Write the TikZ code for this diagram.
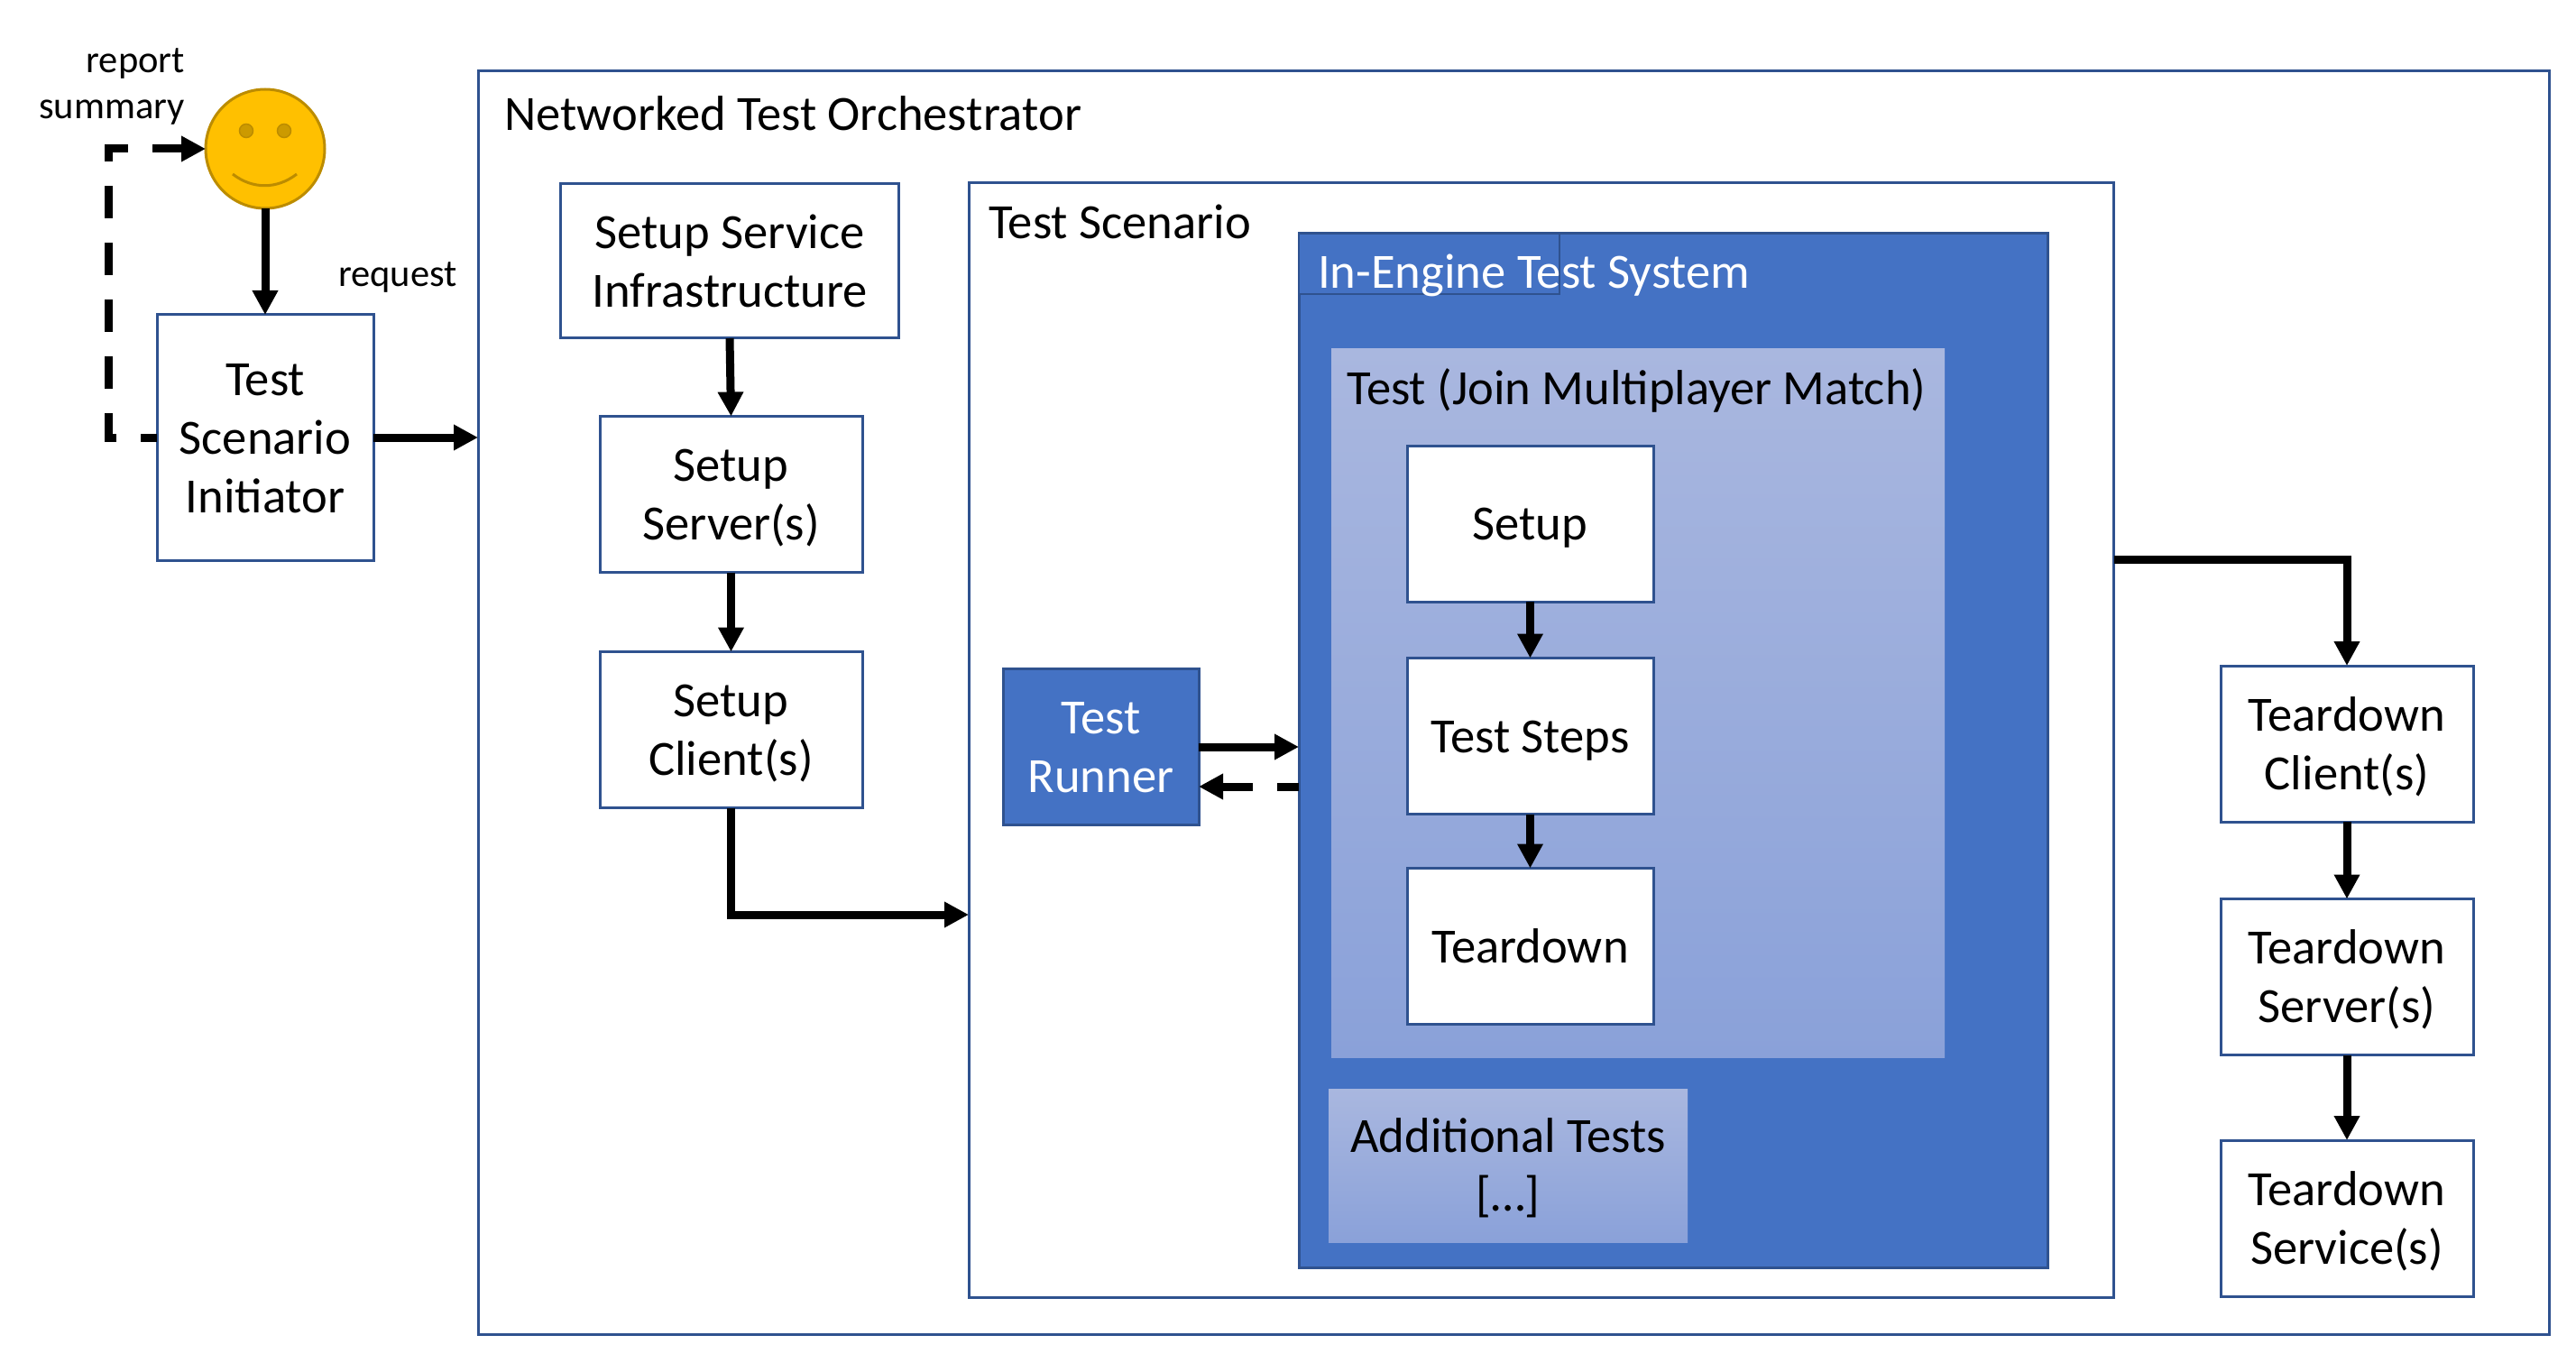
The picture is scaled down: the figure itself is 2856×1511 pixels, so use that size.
\documentclass[tikz,border=0pt]{standalone}
\usepackage{fontspec}
\setmainfont{Carlito}
\usetikzlibrary{arrows.meta,calc}

\definecolor{edgeblue}{HTML}{2F528F}
\definecolor{fillblue}{HTML}{4472C4}
\definecolor{paletop}{HTML}{A9B7DF}
\definecolor{palebot}{HTML}{8AA1D9}
\definecolor{facefill}{HTML}{FFC000}
\definecolor{faceline}{HTML}{BC8C00}
\definecolor{faceeye}{HTML}{CC9A00}

\newcommand{\textfoot}{\rule[-14.3pt]{0pt}{0pt}}
\newcommand{\texttop}{\rule{0pt}{50.7pt}}

\tikzset{
  boxtext/.style={align=center,inner sep=0pt,outer sep=0pt,font=\fontsize{54.6}{65}\selectfont},
  whitebox/.style={boxtext,draw=edgeblue,fill=white,line width=3pt},
  bluebox/.style={boxtext,draw=edgeblue,fill=fillblue,line width=3pt,text=white},
  palebox/.style={boxtext,top color=paletop,bottom color=palebot},
  boxlabel/.style={anchor=base west,inner sep=0pt,font=\fontsize{54.6}{65}\selectfont},
  smalllabel/.style={inner sep=0pt,font=\fontsize{42.5}{51}\selectfont},
  flow/.style={-{Triangle[length=27pt,width=27pt]},line width=9pt,black},
}

\begin{document}
\begin{tikzpicture}[x=1pt,y=-1pt]
\useasboundingbox (0,0) rectangle (2856,1511);

% ---------- Outer containers ----------
\node[whitebox,minimum width=2296pt,minimum height=1400.5pt] (orchestrator) at (1678,779.25) {};
\node[boxlabel] (orchestratorlabel) at (559,145) {Networked Test Orchestrator};

\node[whitebox,minimum width=1269.5pt,minimum height=1235pt] (scenario) at (1708.75,820.5) {};
\node[boxlabel] (scenariolabel) at (1096,265) {Test Scenario};

\node[bluebox,minimum width=830pt,minimum height=1146pt] (engine) at (1855,832) {};
\node[bluebox,line width=2.4pt,minimum width=289pt,minimum height=67pt] (enginetab) at (1584.5,292.5) {};
\node[boxlabel,text=white] (enginelabel) at (1461,320) {In-Engine Test System};

% ---------- Test panel and its steps ----------
\node[palebox,minimum width=680pt,minimum height=785pt] (testpanel) at (1816,779.5) {};
\node[boxlabel] (testlabel) at (1493,448) {Test (Join Multiplayer Match)};

\node[whitebox,minimum width=273pt,minimum height=173pt] (setup) at (1696.5,580.5) {\texttop Setup\textfoot};
\node[whitebox,minimum width=273pt,minimum height=173pt] (steps) at (1696.5,816) {\texttop Test Steps\textfoot};
\node[whitebox,minimum width=273pt,minimum height=173pt] (teardown) at (1696.5,1049) {\texttop Teardown\textfoot};

\node[palebox,minimum width=398pt,minimum height=170pt] (additional) at (1672,1292) {\texttop Additional Tests\\{[…]}\textfoot};

\node[bluebox,minimum width=217pt,minimum height=173pt] (runner) at (1220.5,828) {\texttop Test\\Runner\textfoot};

% ---------- Setup column ----------
\node[whitebox,minimum width=375pt,minimum height=171pt] (infra) at (809,289.5) {\texttop Setup Service\\Infrastructure\textfoot};
\node[whitebox,minimum width=291pt,minimum height=173pt] (setupserver) at (810.5,548) {\texttop Setup\\Server(s)\textfoot};
\node[whitebox,minimum width=291pt,minimum height=173pt] (setupclient) at (810.5,809) {\texttop Setup\\Client(s)\textfoot};

% ---------- Teardown column ----------
\node[whitebox,minimum width=280pt,minimum height=173pt] (tdclient) at (2602,824.5) {\texttop Teardown\\Client(s)\textfoot};
\node[whitebox,minimum width=280pt,minimum height=173pt] (tdserver) at (2602,1083) {\texttop Teardown\\Server(s)\textfoot};
\node[whitebox,minimum width=280pt,minimum height=173pt] (tdservice) at (2602,1350.5) {\texttop Teardown\\Service(s)\textfoot};

% ---------- Initiator and person ----------
\node[whitebox,minimum width=240pt,minimum height=272pt] (initiator) at (294,485) {\texttop Test\\Scenario\\Initiator\textfoot};

\node[circle,draw=faceline,fill=facefill,line width=3pt,minimum size=132pt,inner sep=0pt,outer sep=0pt] (person) at (294,165) {};
\fill[faceeye,draw=faceline,line width=1.5pt] (273,145) circle (7.5);
\fill[faceeye,draw=faceline,line width=1.5pt] (315,145) circle (7.5);
\draw[faceline,line width=3pt] (258,193) .. controls (280,210) and (307,210) .. (329,193);

\node[smalllabel,align=right,anchor=east] (reportlabel) at (205,95.5) {report\\summary};
\node[smalllabel,anchor=base west] (requestlabel) at (375,317.5) {request};

% ---------- Connectors ----------
\coordinate (dashturn) at (120,300);
\coordinate (scenin) at (1074,1014);
\coordinate (scenout) at (2343.5,620);
\coordinate (backtip) at ([yshift=-44pt]runner.east);

\draw[flow] (person.south) -- (initiator.north);
\draw[flow] (initiator.east) -- (initiator.east -| orchestrator.west);
\draw[flow,dash pattern=on 36pt off 27pt,dash phase=18pt]
  (initiator.west) -| (dashturn) |- (person.west);

\draw[flow] (infra.south) -- (setupserver.north);
\draw[flow] (setupserver.south) -- (setupclient.north);
\draw[flow] (setupclient.south) |- (scenin);

\draw[flow] (runner.east) -- (runner.east -| engine.west);
\draw[flow,dash pattern=on 24pt off 27pt on 100pt off 0pt] (backtip -| engine.west) -- (backtip);

\draw[flow] (setup.south) -- (steps.north);
\draw[flow] (steps.south) -- (teardown.north);

\draw[flow] (scenout) -| (tdclient.north);
\draw[flow] (tdclient.south) -- (tdserver.north);
\draw[flow] (tdserver.south) -- (tdservice.north);

\end{tikzpicture}
\end{document}
